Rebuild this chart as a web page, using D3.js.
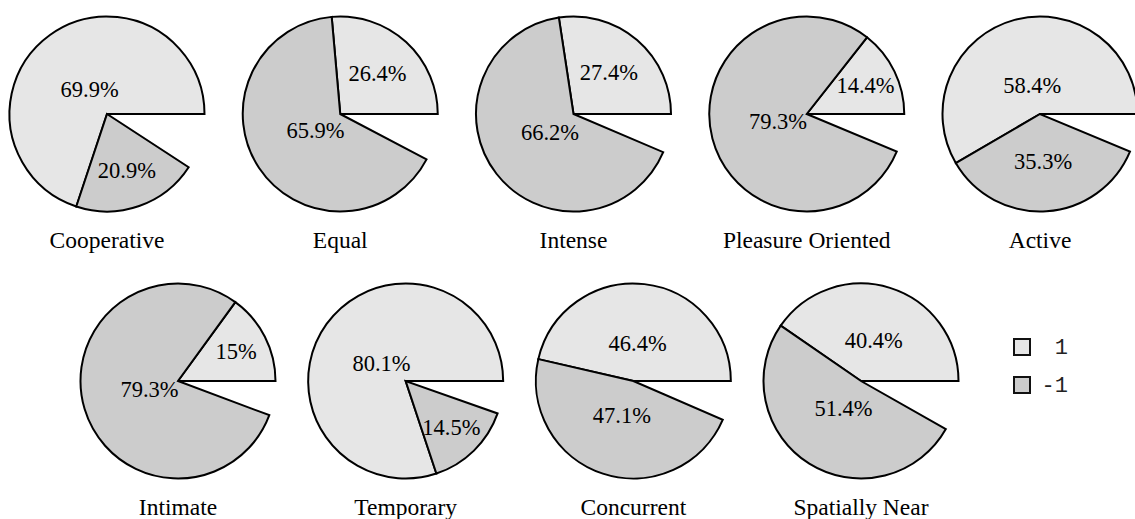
<!DOCTYPE html>
<html>
<head>
<meta charset="utf-8">
<script src="https://cdn.jsdelivr.net/npm/d3@7"></script>
<style>
  html, body { margin: 0; padding: 0; background: #fff; overflow: hidden; }
  svg { display: block; }
</style>
</head>
<body>
<svg id="chart" width="1135" height="519"></svg>
<script>
// ---- data ----
const categories = ["Cooperative", "Equal", "Intense", "Pleasure Oriented", "Active",
                    "Intimate", "Temporary", "Concurrent", "Spatially Near"];
const seriesNames = ["1", "-1"];
const valuesPos = [69.9, 26.4, 27.4, 14.4, 58.4, 15.0, 80.1, 46.4, 40.4];   // "1"
const valuesNeg = [20.9, 65.9, 66.2, 79.3, 35.3, 79.3, 14.5, 47.1, 51.4];   // "-1"
const rowSizes = [5, 4];

// ---- styles / layout ----
const colors = ["#e6e6e6", "#cccccc"];
const radius = 97.5;
const svg = d3.select("#chart");

const rowX = [
  d3.scaleLinear().domain([0, rowSizes[0] - 1]).range([107, 1040]),
  d3.scaleLinear().domain([0, rowSizes[1] - 1]).range([178, 861])
];
const rowY = d3.scaleOrdinal().domain([0, 1]).range([114, 381]);
const labelY = d3.scaleOrdinal().domain([0, 1]).range([248, 515]);

// share (0..100) -> angle, starting at 3 o'clock, counter-clockwise
const angle = d3.scaleLinear().domain([0, 100]).range([Math.PI / 2, Math.PI / 2 - 2 * Math.PI]);
// label distance from centre as a function of the slice share
const labelDist = d3.scaleLinear().domain([15, 55]).range([0.67 * radius, 0.305 * radius]).clamp(true);
const fmt = d3.format(".1~f");
const arc = d3.arc().innerRadius(0).outerRadius(radius);

categories.forEach((cat, i) => {
  const row = i < rowSizes[0] ? 0 : 1;
  const col = row === 0 ? i : i - rowSizes[0];
  const cx = rowX[row](col), cy = rowY(row);
  const g = svg.append("g").attr("transform", `translate(${cx},${cy})`);

  const vals = [valuesPos[i], valuesNeg[i]];
  let cum = 0;
  const slices = vals.map((v, k) => {
    const s = { value: v, k, startAngle: angle(cum), endAngle: angle(cum + v) };
    cum += v;
    return s;
  });

  g.selectAll("path.slice").data(slices).join("path")
    .attr("class", "slice")
    .attr("d", d => arc({ startAngle: d.startAngle, endAngle: d.endAngle }))
    .attr("fill", d => colors[d.k])
    .attr("stroke", "#000")
    .attr("stroke-width", 2)
    .attr("stroke-linejoin", "miter");

  g.selectAll("text.pct").data(slices).join("text")
    .attr("class", "pct")
    .attr("x", d => labelDist(d.value) * Math.sin((d.startAngle + d.endAngle) / 2))
    .attr("y", d => -labelDist(d.value) * Math.cos((d.startAngle + d.endAngle) / 2))
    .attr("text-anchor", "middle")
    .attr("dominant-baseline", "central")
    .attr("font-family", "'Liberation Serif', 'Times New Roman', serif")
    .attr("font-size", 22.5)
    .attr("fill", "#000")
    .text(d => fmt(d.value) + "%");

  svg.append("text")
    .attr("x", cx)
    .attr("y", labelY(row))
    .attr("text-anchor", "middle")
    .attr("font-family", "'Liberation Serif', 'Times New Roman', serif")
    .attr("font-size", 23.5)
    .attr("fill", "#000")
    .text(cat);
});

// ---- legend ----
const legY = d3.scalePoint().domain(seriesNames).range([347, 385]);
const leg = svg.append("g");
const items = leg.selectAll("g").data(seriesNames).join("g")
  .attr("transform", d => `translate(1014,${legY(d)})`);
items.append("rect")
  .attr("x", 0).attr("y", -8).attr("width", 16).attr("height", 16)
  .attr("fill", (d, k) => colors[k])
  .attr("stroke", "#111").attr("stroke-width", 2);
items.append("text")
  .attr("x", 54)
  .attr("y", 1)
  .attr("text-anchor", "end")
  .attr("dominant-baseline", "central")
  .attr("font-family", "'Liberation Mono', 'Courier New', monospace")
  .attr("font-size", 22)
  .attr("fill", "#222")
  .text(d => d);
</script>
</body>
</html>
